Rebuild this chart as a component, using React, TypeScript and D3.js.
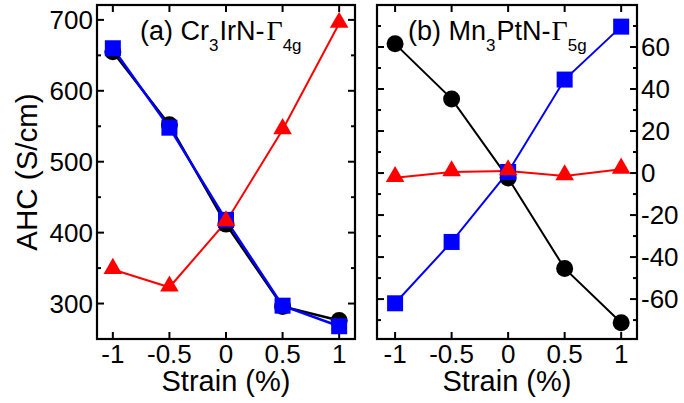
import React from "react";
import * as d3 from "d3";

const strain = [-1, -0.5, 0, 0.5, 1];
const xTicks = [-1, -0.5, 0, 0.5, 1];
const xTickLabels = ["-1", "-0.5", "0", "0.5", "1"];

// Panel (a) Cr3IrN-Γ4g
const aBlack = [655, 552, 412, 296, 276];
const aBlue = [660, 548, 418, 297, 268];
const aRed = [348, 323, 415, 545, 695];
const aMajor = [300, 400, 500, 600, 700];
const aMinor = [250, 350, 450, 550, 650];

// Panel (b) Mn3PtN-Γ5g
const bBlack = [61.5, 35.3, -2.4, -45.4, -71.3];
const bBlue = [-62, -32.8, 0.5, 44.5, 69.7];
const bRed = [-2.2, 0.5, 1, -1.4, 1.8];
const bMajor = [-60, -40, -20, 0, 20, 40, 60];
const bMinor = [-70, -50, -30, -10, 10, 30, 50, 70];

const FONT = "'Liberation Sans', Arial, Helvetica, sans-serif";
const SERIF = "'Liberation Serif', 'DejaVu Serif', serif";
const TOP = 5;
const BOTTOM = 339;

type PanelProps = {
  x0: number;
  x1: number;
  xDomain: [number, number];
  yDomain: [number, number];
  major: number[];
  minor: number[];
  labelSide: "left" | "right";
  black: number[];
  blue: number[];
  red: number[];
  lw: number;
};

function Panel(p: PanelProps) {
  const x = d3.scaleLinear().domain(p.xDomain).range([p.x0, p.x1]);
  const y = d3.scaleLinear().domain(p.yDomain).range([BOTTOM, TOP]);
  const line = d3
    .line<number>()
    .x((_, i) => x(strain[i]))
    .y((d) => y(d));
  const MAJ = 7;
  const MIN = 4;
  const tri = d3.symbol().type(d3.symbolTriangle).size(150)();
  return (
    <g>
      {xTicks.map((t, k) => (
        <g key={"xt" + t}>
          <line x1={x(t)} x2={x(t)} y1={BOTTOM} y2={BOTTOM - MAJ} stroke="#000" strokeWidth={2} />
          <line x1={x(t)} x2={x(t)} y1={TOP} y2={TOP + MAJ} stroke="#000" strokeWidth={2} />
          <text x={x(t)} y={363} textAnchor="middle" fontSize={26} fontFamily={FONT}>
            {xTickLabels[k]}
          </text>
        </g>
      ))}
      {p.major.map((t) => (
        <g key={"yt" + t}>
          <line x1={p.x0} x2={p.x0 + MAJ} y1={y(t)} y2={y(t)} stroke="#000" strokeWidth={2} />
          <line x1={p.x1} x2={p.x1 - MAJ} y1={y(t)} y2={y(t)} stroke="#000" strokeWidth={2} />
          <text
            x={p.labelSide === "left" ? p.x0 - 4 : p.x1 + 4}
            y={y(t)}
            dy="0.36em"
            textAnchor={p.labelSide === "left" ? "end" : "start"}
            fontSize={26}
            fontFamily={FONT}
          >
            {t}
          </text>
        </g>
      ))}
      {p.minor.map((t) => (
        <g key={"ym" + t}>
          <line x1={p.x0} x2={p.x0 + MIN} y1={y(t)} y2={y(t)} stroke="#000" strokeWidth={2} />
          <line x1={p.x1} x2={p.x1 - MIN} y1={y(t)} y2={y(t)} stroke="#000" strokeWidth={2} />
        </g>
      ))}
      <path d={line(p.black) || ""} fill="none" stroke="#000" strokeWidth={p.lw} />
      <path d={line(p.blue) || ""} fill="none" stroke="#0000ff" strokeWidth={p.lw} />
      <path d={line(p.red) || ""} fill="none" stroke="#ff0000" strokeWidth={2} />
      {p.black.map((v, i) => (
        <circle key={"c" + i} cx={x(strain[i])} cy={y(v)} r={8.5} fill="#000" />
      ))}
      {p.blue.map((v, i) => (
        <rect key={"s" + i} x={x(strain[i]) - 8} y={y(v) - 8} width={16} height={16} fill="#0000ff" />
      ))}
      {p.red.map((v, i) => (
        <path key={"t" + i} d={tri || ""} transform={`translate(${x(strain[i])},${y(v) - 1})`} fill="#ff0000" />
      ))}
      <rect x={p.x0} y={TOP} width={p.x1 - p.x0} height={BOTTOM - TOP} fill="none" stroke="#000" strokeWidth={2.2} />
      <text x={(p.x0 + p.x1) / 2} y={391} textAnchor="middle" fontSize={29} fontFamily={FONT}>
        Strain (%)
      </text>
    </g>
  );
}

export default function App() {
  return (
    <svg width={684} height={403} style={{ position: "absolute", left: 0, top: 0, background: "#fff" }}>
      <rect width={684} height={403} fill="#fff" />
      <Panel
        x0={97}
        x1={355}
        xDomain={[-1.14, 1.14]}
        yDomain={[250, 721]}
        major={aMajor}
        minor={aMinor}
        labelSide="left"
        black={aBlack}
        blue={aBlue}
        red={aRed}
        lw={2.5}
      />
      <Panel
        x0={377}
        x1={637}
        xDomain={[-1.16, 1.14]}
        yDomain={[-79, 80]}
        major={bMajor}
        minor={bMinor}
        labelSide="right"
        black={bBlack}
        blue={bBlue}
        red={bRed}
        lw={2}
      />
      <text
        transform="translate(37,172) rotate(-90)"
        textAnchor="middle"
        fontSize={29.5}
        fontFamily={FONT}
      >
        AHC (S/cm)
      </text>
      <text x={140} y={40} fontSize={27} fontFamily={FONT}>
        <tspan>(a) Cr</tspan>
        <tspan fontSize={17} dy={11}>3</tspan>
        <tspan dy={-11} dx={1}>IrN-</tspan>
        <tspan fontFamily={SERIF} fontSize={28} dx={2}>Γ</tspan>
        <tspan fontSize={17} dy={11}>4g</tspan>
      </text>
      <text x={408} y={40} fontSize={27} fontFamily={FONT}>
        <tspan>(b) Mn</tspan>
        <tspan fontSize={17} dy={11}>3</tspan>
        <tspan dy={-11} dx={1}>PtN-</tspan>
        <tspan fontFamily={SERIF} fontSize={28} dx={1}>Γ</tspan>
        <tspan fontSize={17} dy={11}>5g</tspan>
      </text>
    </svg>
  );
}
